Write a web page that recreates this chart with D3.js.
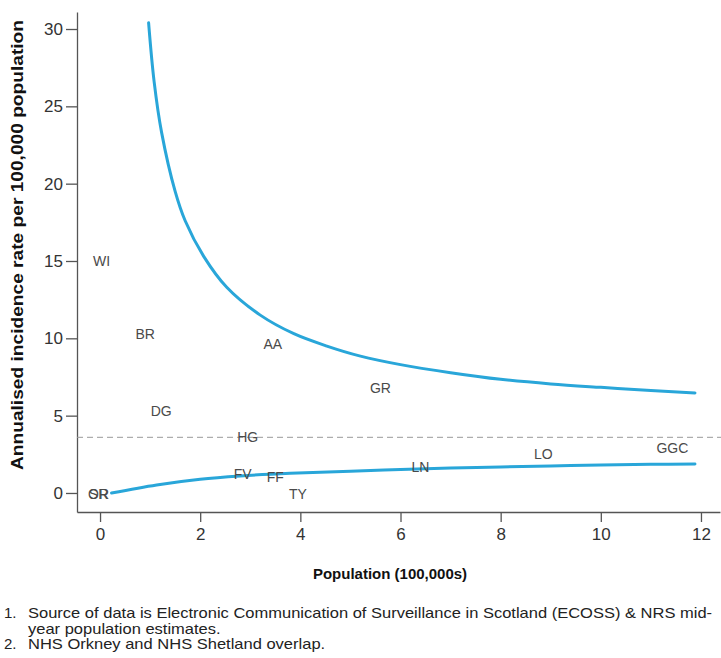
<!DOCTYPE html>
<html>
<head>
<meta charset="utf-8">
<script src="https://cdn.jsdelivr.net/npm/d3@7"></script>
<style>
  body { margin: 0; background: #fff; }
  svg { display: block; font-family: "Liberation Sans", Arial, sans-serif; }
</style>
</head>
<body>
<svg id="chart" width="721" height="658"></svg>
<script>
// health board labels, population (100,000s) vs rate per 100,000
var boards = ['WI', 'BR', 'AA', 'GR', 'DG', 'HG', 'FV', 'FF', 'TY', 'OR', 'SR', 'LN', 'LO', 'GGC'];
var boardPop = [0.03, 0.9, 3.45, 5.6, 1.22, 2.95, 2.85, 3.5, 3.95, -0.03, -0.03, 6.4, 8.85, 11.43];
var boardRate = [15.0, 10.3, 9.6, 6.8, 5.3, 3.6, 1.2, 1.0, -0.1, -0.1, -0.1, 1.7, 2.5, 2.9];

var meanRate = 3.6;

// upper control limit
var upperPop = [0.97, 1.08, 1.23, 1.5, 1.7, 2.07, 2.53, 3.2, 3.87, 4.53, 5.2, 6, 7, 8, 9, 10, 11, 11.88];
var upperRate = [30.4, 26.6, 23.3, 19.5, 17.6, 15.3, 13.3, 11.5, 10.3, 9.5, 8.85, 8.3, 7.78, 7.35, 7.05, 6.83, 6.63, 6.47];

// lower control limit
var lowerPop = [0.23, 1.13, 2.0, 2.8, 3.8, 5.0, 6, 7, 8, 9, 10, 11, 11.88];
var lowerRate = [0.0, 0.52, 0.89, 1.1, 1.27, 1.4, 1.52, 1.61, 1.68, 1.75, 1.81, 1.85, 1.88];

var xTicks = [0, 2, 4, 6, 8, 10, 12];
var yTicks = [0, 5, 10, 15, 20, 25, 30];

var notes = [
  ['1.', 'Source of data is Electronic Communication of Surveillance in Scotland (ECOSS) & NRS mid-'],
  ['', 'year population estimates.'],
  ['2.', 'NHS Orkney and NHS Shetland overlap.']
];

const svg = d3.select('#chart');

var x = d3.scaleLinear().domain([-0.46, 12.38]).range([77, 720]);
var y = d3.scaleLinear().domain([-1.23, 31.1]).range([512, 12]);

// axes
var xAxis = d3.axisBottom(x).tickValues(xTicks).tickSize(10).tickPadding(6).tickSizeOuter(0);
var yAxis = d3.axisLeft(y).tickValues(yTicks).tickSize(11).tickPadding(3).tickSizeOuter(0);

var gx = svg.append('g').attr('transform', 'translate(0,512)').call(xAxis);
var gy = svg.append('g').attr('transform', 'translate(77,0)').call(yAxis);

[gx, gy].forEach(function(g) {
  g.selectAll('.domain').attr('stroke', '#555').attr('stroke-width', 1.3);
  g.selectAll('.tick line').attr('stroke', '#555').attr('stroke-width', 1.3);
  g.selectAll('.tick text')
    .attr('fill', '#333')
    .style('font-size', '17px')
    .style('font-family', '"Liberation Sans", Arial, sans-serif');
});

// mean line
svg.append('line')
  .attr('x1', 77).attr('x2', 721)
  .attr('y1', y(meanRate)).attr('y2', y(meanRate))
  .attr('stroke', '#999')
  .attr('stroke-width', 1)
  .attr('stroke-dasharray', '6,4');

// control limits
var line = d3.line()
  .x(function(d) { return x(d[0]); })
  .y(function(d) { return y(d[1]); })
  .curve(d3.curveCatmullRom.alpha(0.5));

var upper = upperPop.map(function(p, i) { return [p, upperRate[i]]; });
var lower = lowerPop.map(function(p, i) { return [p, lowerRate[i]]; });

svg.selectAll('path.limit')
  .data([upper, lower])
  .enter().append('path')
  .attr('class', 'limit')
  .attr('d', line)
  .attr('fill', 'none')
  .attr('stroke', '#29a6d9')
  .attr('stroke-width', 3)
  .attr('stroke-linecap', 'round');

// board labels
svg.selectAll('text.board')
  .data(boards)
  .enter().append('text')
  .attr('class', 'board')
  .attr('x', function(d, i) { return x(boardPop[i]); })
  .attr('y', function(d, i) { return y(boardRate[i]); })
  .attr('text-anchor', 'middle')
  .attr('dy', '0.35em')
  .attr('fill', '#4a4a4a')
  .style('font-size', '14px')
  .text(function(d) { return d; });

// axis titles
svg.append('text')
  .attr('x', 390).attr('y', 579)
  .attr('text-anchor', 'middle')
  .attr('fill', '#111')
  .style('font-size', '15px')
  .style('font-weight', 'bold')
  .text('Population (100,000s)');

svg.append('text')
  .attr('transform', 'translate(23,245) rotate(-90)')
  .attr('text-anchor', 'middle')
  .attr('fill', '#111')
  .attr('textLength', 450)
  .attr('lengthAdjust', 'spacingAndGlyphs')
  .style('font-size', '16px')
  .style('font-weight', 'bold')
  .text('Annualised incidence rate per 100,000 population');

// footnotes
var fn = svg.append('g').style('font-size', '15px').attr('fill', '#222');
notes.forEach(function(n, i) {
  fn.append('text').attr('x', 4).attr('y', 618 + i * 15.5).text(n[0]);
  var t = fn.append('text').attr('x', 28).attr('y', 618 + i * 15.5).text(n[1]);
  var len = t.node().getComputedTextLength();
  t.attr('textLength', len * 1.1).attr('lengthAdjust', 'spacingAndGlyphs');
});
</script>
</body>
</html>
